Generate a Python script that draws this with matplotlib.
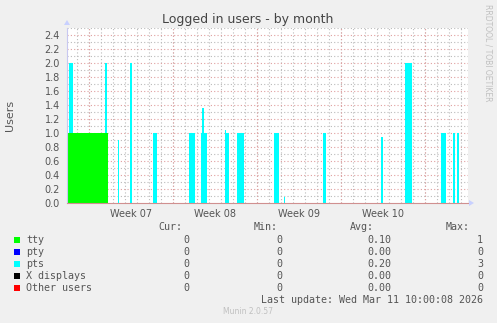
import matplotlib
matplotlib.use("Agg")
import matplotlib.pyplot as plt
import numpy as np

# ---- data (x in days from left edge of plot) ----
week_labels = ["Week 07", "Week 08", "Week 09", "Week 10"]
week_starts = [1.8, 8.8, 15.8, 22.8, 29.8]
x_max = 33.42

tty_start = [0.0]
tty_end = [3.4]
tty_value = [1.0]

pts_start = [0.17, 3.17, 4.22, 5.25, 7.19, 10.20, 11.17, 11.28, 13.17, 13.17, 14.17,
             17.25, 18.05, 21.30, 26.15, 28.20, 31.20, 32.20, 32.50]
pts_end = [0.53, 3.36, 4.33, 5.45, 7.52, 10.67, 11.64, 11.40, 13.50, 13.27, 14.78,
           17.70, 18.17, 21.62, 26.30, 28.75, 31.60, 32.35, 32.70]
pts_value = [1.0, 1.0, 0.9, 2.0, 1.0, 1.0, 1.0, 1.36, 1.0, 1.05, 1.0,
             1.0, 0.08, 1.0, 0.95, 2.0, 1.0, 1.0, 1.0]

legend_names = ["tty", "pty", "pts", "X displays", "Other users"]
legend_colors = ["#00FF00", "#0000FF", "#00FFFF", "#000000", "#FF0000"]
cur_vals = ["0", "0", "0", "0", "0"]
min_vals = ["0", "0", "0", "0", "0"]
avg_vals = ["0.10", "0.00", "0.20", "0.00", "0.00"]
max_vals = ["1", "0", "3", "0", "0"]

W, H = 497, 323
fig = plt.figure(figsize=(W / 100, H / 100), dpi=100, facecolor="#F0F0F0")
L, R, T, B = 67, 468, 28, 203
ax = fig.add_axes([L / W, 1 - B / H, (R - L) / W, (B - T) / H])
ax.set_facecolor("white")
ax.set_xlim(0, x_max)
ax.set_ylim(0, 2.5)


def tty_at(x):
    for s, e, v in zip(tty_start, tty_end, tty_value):
        if s <= x < e:
            return v
    return 0.0


# grid
gray = "#bbbbbb"
red = "#e0a0a0"
for d in np.arange(0, x_max, 1.0):
    ax.axvline(d + (week_starts[0] % 1.0), color=gray, lw=0.8, ls=(0, (1, 2)), zorder=0)
for ws in week_starts:
    ax.axvline(ws, color=red, lw=0.8, ls=(0, (1, 2)), zorder=0.5)
for yv in np.arange(0.1, 2.51, 0.2):
    ax.axhline(yv, color=gray, lw=0.8, ls=(0, (1, 2)), zorder=0)
for yv in np.arange(0.2, 2.41, 0.2):
    ax.axhline(yv, color=red, lw=0.8, ls=(0, (1, 2)), zorder=0.5)

# tty area
for s, e, v in zip(tty_start, tty_end, tty_value):
    ax.bar(s, v, width=e - s, align="edge", color=legend_colors[0], lw=0, zorder=2)
# pts stacked
for s, e, v in zip(pts_start, pts_end, pts_value):
    b = tty_at(s)
    ax.bar(s, v, width=e - s, bottom=b, align="edge", color=legend_colors[2], lw=0, zorder=2)

# axes styling
for sp in ["top", "right"]:
    ax.spines[sp].set_visible(False)
ax.spines["left"].set_color("#c8c8f0")
ax.spines["bottom"].set_color("#d09090")
ax.spines["left"].set_linewidth(0.8)
ax.spines["bottom"].set_linewidth(0.8)

ax.set_yticks(np.arange(0, 2.41, 0.2))
ax.set_yticklabels([f"{v:.1f}" for v in np.arange(0, 2.41, 0.2)])
ax.set_xticks([ws + 3.5 for ws in week_starts[:4]])
ax.set_xticklabels(week_labels)
ax.tick_params(axis="both", labelsize=7, colors="#555555", length=0, pad=5)
ax.tick_params(axis="x", pad=4)

# arrows
fig.patches.append(matplotlib.patches.Polygon(
    [[(L - 3) / W, 1 - 25 / H], [(L + 3) / W, 1 - 25 / H], [L / W, 1 - 20 / H]],
    closed=True, transform=fig.transFigure, color="#c8d0ff", lw=0))
fig.patches.append(matplotlib.patches.Polygon(
    [[(R + 1) / W, 1 - 200 / H], [(R + 1) / W, 1 - 206 / H], [(R + 6) / W, 1 - 203 / H]],
    closed=True, transform=fig.transFigure, color="#c8d0ff", lw=0))

# texts
fig.text(248 / W, 1 - 19 / H, "Logged in users - by month", ha="center", va="center",
         fontsize=9, color="#444444")
fig.text(10 / W, 1 - 115 / H, "Users", rotation=90, ha="center", va="center",
         fontsize=8, color="#555555")
fig.text(488 / W, 1 - 53 / H, "RRDTOOL / TOBI OETIKER", rotation=270, ha="center",
         va="center", fontsize=5.5, color="#c0c0c0")

mono = "DejaVu Sans Mono"
fs = 7.2
tc = "#555555"
hy = 227
for txt, xr in zip(["Cur:", "Min:", "Avg:", "Max:"], [182, 278, 374, 470]):
    fig.text(xr / W, 1 - hy / H, txt, ha="right", va="center", family=mono, fontsize=fs, color=tc)
for i, name in enumerate(legend_names):
    yy = 240 + i * 12
    fig.patches.append(matplotlib.patches.Rectangle(
        (14 / W, 1 - (yy + 3) / H), 6 / W, 6 / H, transform=fig.transFigure,
        color=legend_colors[i], lw=0))
    fig.text(26 / W, 1 - yy / H, name, ha="left", va="center", family=mono, fontsize=fs, color=tc)
    for vals, xr in zip([cur_vals, min_vals, avg_vals, max_vals], [189, 282, 391, 483]):
        fig.text(xr / W, 1 - yy / H, vals[i], ha="right", va="center", family=mono,
                 fontsize=fs, color=tc)
fig.text(483 / W, 1 - 300 / H, "Last update: Wed Mar 11 10:00:08 2026", ha="right",
         va="center", family=mono, fontsize=fs, color=tc)
fig.text(248 / W, 1 - 312 / H, "Munin 2.0.57", ha="center", va="center",
         fontsize=5.5, color="#c0c0c0")

fig.savefig("out.png", dpi=100, facecolor=fig.get_facecolor())
